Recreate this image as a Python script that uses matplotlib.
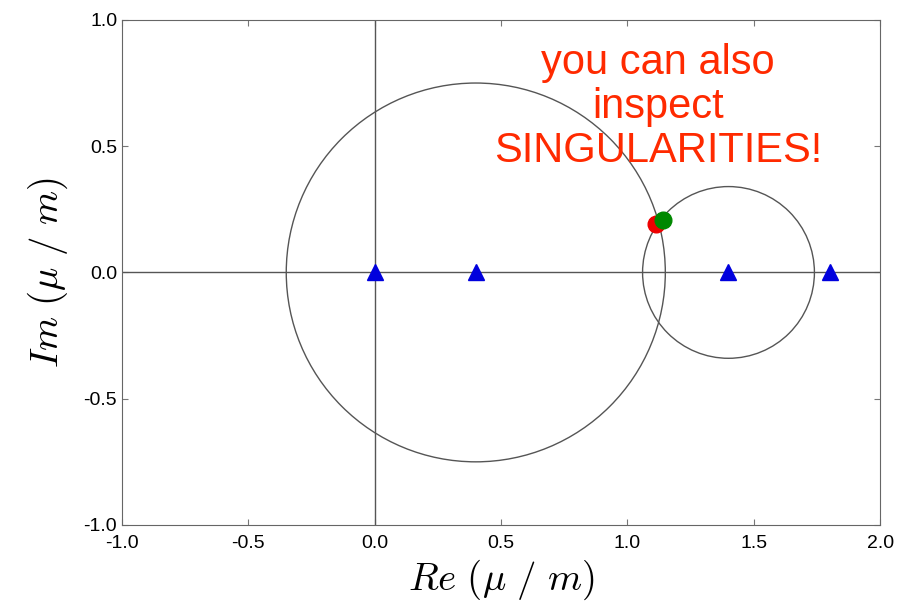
import matplotlib
matplotlib.use("Agg")
import matplotlib.pyplot as plt
from matplotlib.patches import Circle

# circles in the complex plane
circle_cx = [0.4, 1.4]
circle_r = [0.75, 0.34]

# poles on the real axis
pole_re = [0.0, 0.4, 1.4, 1.8]
pole_im = [0.0, 0.0, 0.0, 0.0]

# the singular points
red_pt = (1.115, 0.19)
green_pt = (1.14, 0.207)

xticks = [-1.0, -0.5, 0.0, 0.5, 1.0, 1.5, 2.0]
yticks = [-1.0, -0.5, 0.0, 0.5, 1.0]

plt.rcParams['font.family'] = ['Liberation Sans', 'DejaVu Sans']
plt.rcParams['mathtext.fontset'] = 'cm'

fig = plt.figure(figsize=(8.99, 6.03), dpi=100)
ax = fig.add_axes([0.1357, 0.1294, 0.8433, 0.8376])

ax.axhline(0, color='#555555', lw=1.0)
ax.axvline(0, color='#555555', lw=1.0)

for cx, r in zip(circle_cx, circle_r):
    ax.add_patch(Circle((cx, 0), r, fill=False, ec='#555555', lw=1.0))

ax.plot(pole_re, pole_im, ls='none', marker='^', ms=12, color='#0000dd', mec='#0000dd')
ax.plot(*red_pt, marker='o', ms=12, color='#ee0000', mec='#ee0000')
ax.plot(*green_pt, marker='o', ms=12, color='#008800', mec='#008800')

ax.text(1.121, 0.655, "you can also\ninspect\nSINGULARITIES!", color='#ff2a00',
        fontsize=30, ha='center', va='center', ma='center', linespacing=1.12)

ax.set_xlim(-1, 2)
ax.set_ylim(-1, 1)
ax.set_xticks(xticks)
ax.set_yticks(yticks)
ax.set_xticklabels(["%.1f" % v for v in xticks])
ax.set_yticklabels(["%.1f" % v for v in yticks])
ax.tick_params(direction='in', top=True, right=True, length=4, labelsize=14, color='#777777')
ax.tick_params(axis='x', pad=7)
for s in ax.spines.values():
    s.set_color('#666666')

ax.set_xlabel(r"$Re\ (\mu\ /\ m)$", fontsize=28, labelpad=4)
ax.set_ylabel(r"$Im\ (\mu\ /\ m)$", fontsize=28, labelpad=10)

fig.savefig("out.png", dpi=100)
